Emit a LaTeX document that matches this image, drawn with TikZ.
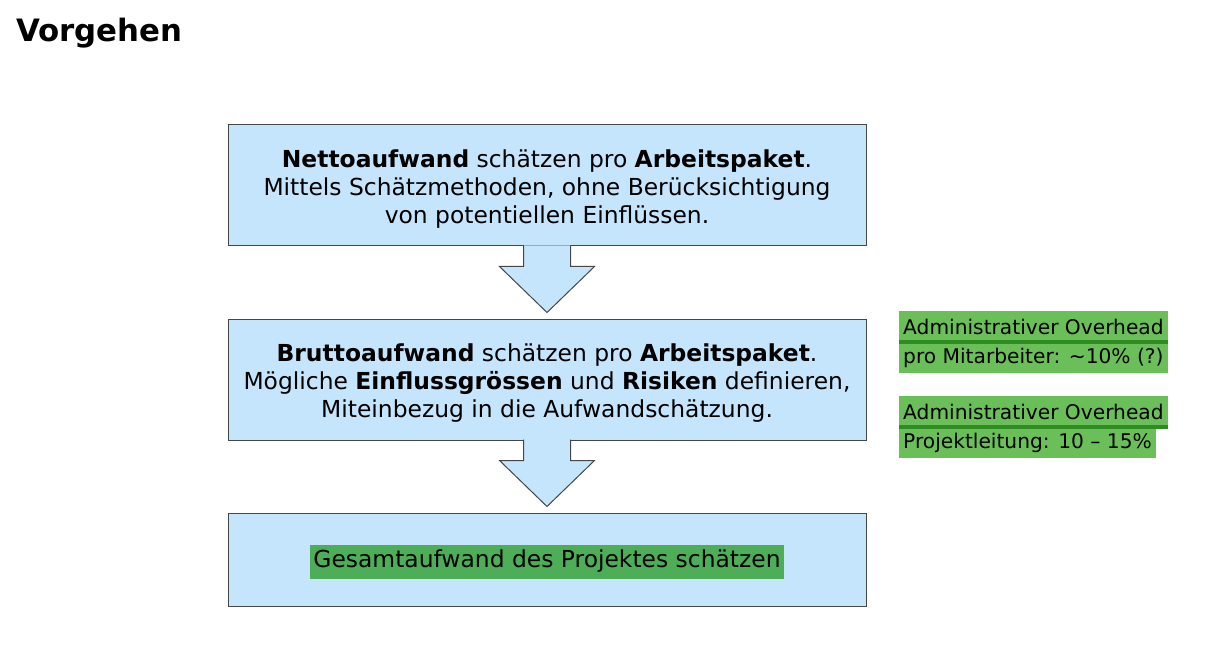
\documentclass[tikz,border=0pt]{standalone}
\usepackage{fontspec}
\setmainfont{DejaVu Sans}
\usetikzlibrary{calc}

\definecolor{boxblue}{RGB}{197,229,252}
\definecolor{boxline}{RGB}{70,70,70}
\definecolor{hlgreen}{RGB}{107,191,89}
\definecolor{hldark}{RGB}{78,174,88}
\definecolor{ulgreen}{RGB}{46,140,34}

\tikzset{
  stepbox/.style={draw=boxline, fill=boxblue, line width=1pt,
    minimum width=638pt, inner sep=0pt, align=center,
    font=\fontsize{23.4}{28}\selectfont},
  blockarrow/.style={draw=boxline, fill=boxblue, line width=1pt, line join=miter},
  hlnote/.style={fill=hlgreen, anchor=north west, inner xsep=4pt, inner ysep=0pt,
    font=\fontsize{20.2}{26}\selectfont},
}

% erste Zeile etwas tiefer setzen
\newcommand{\kopf}{\rule{0pt}{24pt}}

% Blockpfeil zwischen zwei Kaesten
\newcommand{\blockpfeil}[2]{
  \draw[blockarrow] ($(#1.south)+(-23.5,-1)$) -- ++(0,21) -- ++(-24,0)
    -- ($(#2.north)+(0,-6)$) -- ($(#1.south)+(47.5,20)$)
    -- ($(#1.south)+(23.5,20)$) -- ($(#1.south)+(23.5,-1)$);
}

\begin{document}
\begin{tikzpicture}[x=1pt,y=-1pt]
  \useasboundingbox (0,0) rectangle (1228,668);

  % Titel
  \node[anchor=base west, inner sep=0pt, font=\fontsize{30.8}{36}\selectfont\bfseries] (titel) at (16,42) {Vorgehen};

  % Kaesten
  \node[stepbox, minimum height=121pt] (netto) at (547,185.5)
    {\kopf\textbf{Nettoaufwand} schätzen pro \textbf{Arbeitspaket}.\\
     Mittels Schätzmethoden, ohne Berücksichtigung\\
     von potentiellen Einflüssen.};
  \node[stepbox, minimum height=121pt] (brutto) at (547,379.5)
    {\kopf\textbf{Bruttoaufwand} schätzen pro \textbf{Arbeitspaket}.\\
     Mögliche \textbf{Einflussgrössen} und \textbf{Risiken} definieren,\\
     Miteinbezug in die Aufwandschätzung.};
  \node[stepbox, minimum height=93pt] (gesamt) at (547,559.5)
    {\raisebox{-2pt}[\height][\depth]{\colorbox{hldark}{\strut Gesamtaufwand des Projektes schätzen}}};

  % Pfeile
  \blockpfeil{netto}{brutto}
  \blockpfeil{brutto}{gesamt}

  % Overhead
  \node[hlnote, minimum height=32pt] (ovA) at (899,311) {Administrativer Overhead};
  \node[hlnote, minimum height=30pt] (mitarb) at (899,343) {pro Mitarbeiter: \textasciitilde10\% (?)};
  \draw[ulgreen, line width=3.5pt] ($(ovA.south west)+(0,-1.5)$) -- ($(ovA.south east)+(0,-1.5)$);
  \node[hlnote, minimum height=32pt] (ovB) at (899,396) {Administrativer Overhead};
  \node[hlnote, minimum height=30pt] (leitung) at (899,428) {Projektleitung: 10 -- 15\%};
  \draw[ulgreen, line width=3.5pt] ($(ovB.south west)+(0,-1.5)$) -- ($(ovB.south east)+(0,-1.5)$);
\end{tikzpicture}
\end{document}
